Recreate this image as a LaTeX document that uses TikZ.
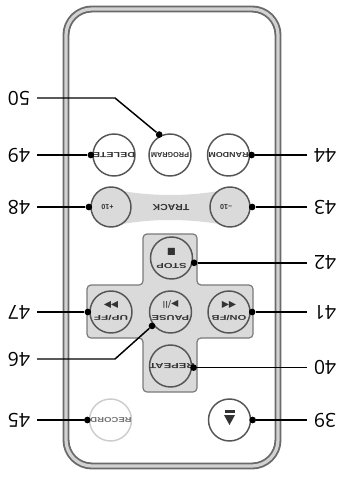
\documentclass[tikz,border=0pt]{standalone}
\usepackage{fontspec}
\usepackage{graphicx}
\setmainfont{Open Sans}
\newfontfamily\symfont{DejaVu Sans}
\newfontfamily\keyfont{Liberation Sans}
% key caption squeezed/stretched to a given width (pt) and cap height
\newcommand{\keycap}[3][3.8]{\resizebox{#2pt}{#1pt}{\keyfont\bfseries #3}}
\definecolor{keyedge}{HTML}{555555}
\definecolor{padgray}{HTML}{DADADA}
\definecolor{padedge}{HTML}{7A7A7A}
\definecolor{shellout}{HTML}{6A6A6A}
\definecolor{shellin}{HTML}{D2D2D2}
\definecolor{captext}{HTML}{333333}
\definecolor{faint}{HTML}{CDCDCD}
\begin{document}
\begin{tikzpicture}[x=0.75pt,y=-0.75pt,
  key/.style={circle,draw=keyedge,line width=1.1pt,inner sep=0pt,
    outer sep=1.6pt,minimum size=31.5pt,fill=white},
  smallkey/.style={key,minimum size=30pt,fill=padgray},
  padkey/.style={key,fill=padgray},
  keytext/.style={rotate=180,inner sep=0pt,text=captext},
  keysym/.style={rotate=180,inner sep=0pt,text=captext,
    font=\symfont\fontsize{7}{8}\selectfont},
  num/.style={rotate=180,inner sep=0pt,font=\fontsize{14.5}{15}\selectfont},
  dot/.style={circle,fill=black,inner sep=0pt,minimum size=5pt},
  callout/.style={draw=black,line width=1.1pt}]
\useasboundingbox (0,0) rectangle (337,477);

% remote body: double outline
\draw[shellout,line width=5.2pt,rounded corners=19.5pt] (66,9) rectangle (278,466);
\draw[shellin,line width=2.4pt,rounded corners=19.5pt] (66,9) rectangle (278,466);

% track band
\fill[padgray] (112,189) .. controls (150,197) and (190,197) .. (230,189)
  -- (230,226) .. controls (190,218) and (150,218) .. (112,226) -- cycle;

% direction pad
\draw[fill=padgray,draw=padedge,line width=0.9pt,rounded corners=3pt]
  (143,234) -- (197,234) -- (197,285) -- (253,285) -- (253,338) -- (197,338)
  -- (197,392) -- (143,392) -- (143,338) -- (87,338) -- (87,285) -- (143,285) -- cycle;

% keys
\node[key] (del) at (114,155) {};
\node[key] (prog) at (170,155) {};
\node[key] (rand) at (228.5,155) {};
\node[smallkey] (tplus) at (111,207) {};
\node[smallkey] (tminus) at (230,207) {};
\node[padkey] (stop) at (171.5,258) {};
\node[padkey] (upff) at (111,312) {};
\node[padkey] (pause) at (170.5,312) {};
\node[padkey] (onfb) at (229,312) {};
\node[padkey] (rep) at (170.5,366) {};
\node[key,draw=faint] (rec) at (110.5,420) {};
\node[key] (ej) at (229.5,420) {};

% key captions
\node[keytext] (tdel) at (del) {\keycap{31.5}{DELETE}};
\node[keytext] (tprog) at (prog) {\keycap{28.5}{PROGRAM}};
\node[keytext] (trand) at (rand) {\keycap{30}{RANDOM}};
\node[keytext] (tplusc) at (107.5,207) {\keycap{9}{+10}};
\node[keytext] (tminusc) at (226,207) {\keycap{9}{–10}};
\node[keytext] (ttrack) at (171,208) {\keycap[4.6]{27.5}{TRACK}};
\node[keytext] (tstop) at (171.5,266) {\keycap{22.5}{STOP}};
\node[keysym] (sstop) at (171.5,252) {■};
\node[keytext] (tupff) at (111,318) {\keycap{25.5}{UP/FF}};
\node[keysym] (supff) at (111,305) {▶▶};
\node[keytext] (tpause) at (170.5,318) {\keycap{28}{PAUSE}};
\node[keysym] (spause) at (170.5,304) {▶/II};
\node[keytext] (tonfb) at (229,318) {\keycap{26}{ON/FB}};
\node[keysym] (sonfb) at (229,305) {◀◀};
\node[keytext] (trep) at (172,366) {\keycap{34}{REPEAT}};
\node[keytext,text=black!55] (trec) at (111,420) {\keycap{31}{RECORD}};

% eject symbol
\fill[captext] (224.5,409.5) rectangle (234.5,412.5);
\fill[captext] (224,415) -- (235,415) -- (229.5,425) -- cycle;

% callout dots
\node[dot] (d50) at (prog.118) {};
\node[dot] (d49) at (del.west) {};
\node[dot] (d48) at (tplus.west) {};
\node[dot] (d47) at (upff.west) {};
\node[dot] (d46) at (pause.217) {};
\node[dot] (d45) at (rec.west) {};
\node[dot] (d44) at (rand.east) {};
\node[dot] (d43) at (tminus.east) {};
\node[dot] (d42) at (stop.-12) {};
\node[dot] (d41) at (onfb.east) {};
\node[dot] (d40) at (rep.-4) {};
\node[dot] (d39) at (ej.east) {};

% leader line ends and label columns
\coordinate (lx) at (37,0);
\coordinate (rx) at (307,0);
\coordinate (nl) at (19,0);
\coordinate (nr) at (325,0);
\coordinate (k50) at (115,98);
\coordinate (k46) at (115,359);

% leaders
\draw[callout] (d50) -- (k50) -- (k50 -| lx);
\draw[callout] (d46) -- (k46) -- (k46 -| lx);
\foreach \n in {49,48,47,45}{\draw[callout] (d\n) -- (d\n -| lx);}
\foreach \n in {44,43,42,41,40,39}{\draw[callout] (d\n) -- (d\n -| rx);}

% reference numbers
\node[num] (l50) at (k50 -| nl) {50};
\node[num] (l46) at (k46 -| nl) {46};
\foreach \n in {49,48,47,45}{\node[num] (l\n) at (d\n -| nl) {\n};}
\foreach \n in {44,43,42,41,40,39}{\node[num] (l\n) at (d\n -| nr) {\n};}
\end{tikzpicture}
\end{document}
